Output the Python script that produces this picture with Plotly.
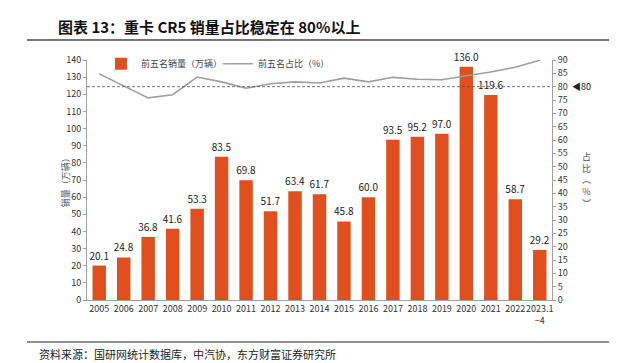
import plotly.graph_objects as go

categories = ["2005", "2006", "2007", "2008", "2009", "2010", "2011", "2012", "2013", "2014",
              "2015", "2016", "2017", "2018", "2019", "2020", "2021", "2022", "2023.1-4"]
tick_labels = ["2005", "2006", "2007", "2008", "2009", "2010", "2011", "2012", "2013", "2014",
               "2015", "2016", "2017", "2018", "2019", "2020", "2021", "2022", "2023.1<br>−4"]
sales = [20.1, 24.8, 36.8, 41.6, 53.3, 83.5, 69.8, 51.7, 63.4, 61.7,
         45.8, 60.0, 93.5, 95.2, 97.0, 136.0, 119.6, 58.7, 29.2]
share = [84.8, 80.3, 75.8, 77.0, 83.6, 81.8, 79.4, 81.1, 81.8, 81.4,
         83.2, 81.8, 83.5, 82.8, 82.6, 84.1, 85.5, 87.3, 89.9]

FONT = "Noto Sans CJK SC"
BAR = "#E0501F"
GREY = "#9E9E9E"

fig = go.Figure()
fig.add_trace(go.Bar(
    x=categories, y=sales, name="前五名销量（万辆）",
    marker=dict(color=BAR, line=dict(width=0)),
    width=0.55,
    text=[f"{v:.1f}" for v in sales], textposition="outside",
    constraintext="none",
    textfont=dict(size=10, color="#222", family=FONT),
    cliponaxis=False,
))
fig.add_trace(go.Scatter(
    x=categories, y=share, name="前五名占比（%）", yaxis="y2",
    mode="lines", line=dict(color=GREY, width=1.6),
))

fig.update_layout(
    width=617, height=363,
    margin=dict(l=79, r=73, t=52, b=71),
    paper_bgcolor="white", plot_bgcolor="white",
    font=dict(family=FONT, size=9, color="#333"),
    showlegend=True,
    legend=dict(orientation="h", x=0.03, y=1.045, xanchor="left", yanchor="top",
                font=dict(size=9, color="#444"), bgcolor="rgba(0,0,0,0)",
                itemwidth=30, entrywidth=72, entrywidthmode="pixels"),
    xaxis=dict(type="category", tickvals=categories, ticktext=tick_labels,
               tickangle=0,
               showline=True, linecolor="#A0A0A0", linewidth=1, ticks="",
               showgrid=False, tickfont=dict(size=9, color="#333"),
               range=[-0.5, 18.5]),
    yaxis=dict(range=[0, 140], dtick=10, showline=True, linecolor="#A0A0A0",
               linewidth=1, ticks="outside", ticklen=3, tickcolor="#A0A0A0",
               showgrid=False, zeroline=False, tickfont=dict(size=9, color="#333")),
    yaxis2=dict(range=[0, 90], dtick=5, overlaying="y", side="right",
                showline=True, linecolor="#A0A0A0", linewidth=1, ticks="outside",
                ticklen=3, tickcolor="#A0A0A0", showgrid=False, zeroline=False,
                tickfont=dict(size=9, color="#333")),
)

# 80% reference line
fig.add_shape(type="line", xref="paper", x0=0, x1=1, yref="y2", y0=80, y1=80,
              line=dict(color="#555", width=0.8, dash="3px,2px"))
fig.add_annotation(xref="paper", x=1.038, yref="y2", y=80, text="◀80", showarrow=False,
                   xanchor="left", font=dict(size=9, color="#222"))

# axis titles
fig.add_annotation(xref="paper", x=-0.065, yref="paper", y=0.5, text="销量（万辆）",
                   textangle=-90, showarrow=False, font=dict(size=9, color="#555"))
fig.add_annotation(xref="paper", x=1.06, xanchor="left", yref="paper", y=0.5,
                   text="占<br>比<br>︵<br>%<br>︶", showarrow=False,
                   font=dict(size=9, color="#555"))

# title and rules
fig.add_annotation(xref="paper", yref="paper", x=(48 - 79) / 465, y=1 + (52 - 18) / 240,
                   xanchor="left", yanchor="middle", showarrow=False,
                   text="<b>图表 13：重卡 CR5 销量占比稳定在 80%以上</b>",
                   font=dict(size=15, color="#111", family=FONT))
fig.add_shape(type="line", xref="paper", yref="paper",
              x0=(19 - 79) / 465, x1=(608 - 79) / 465,
              y0=1 + (52 - 32) / 240, y1=1 + (52 - 32) / 240,
              line=dict(color="#444", width=1.5))
fig.add_shape(type="line", xref="paper", yref="paper",
              x0=(19 - 79) / 465, x1=(608 - 79) / 465,
              y0=-(334 - 292) / 240, y1=-(334 - 292) / 240,
              line=dict(color="#222", width=1))
fig.add_annotation(xref="paper", yref="paper", x=(29 - 79) / 465, y=-(346 - 292) / 240,
                   xanchor="left", yanchor="middle", showarrow=False,
                   text="资料来源：国研网统计数据库，中汽协，东方财富证券研究所",
                   font=dict(size=11, color="#222", family=FONT))

fig.write_html("out.html")
